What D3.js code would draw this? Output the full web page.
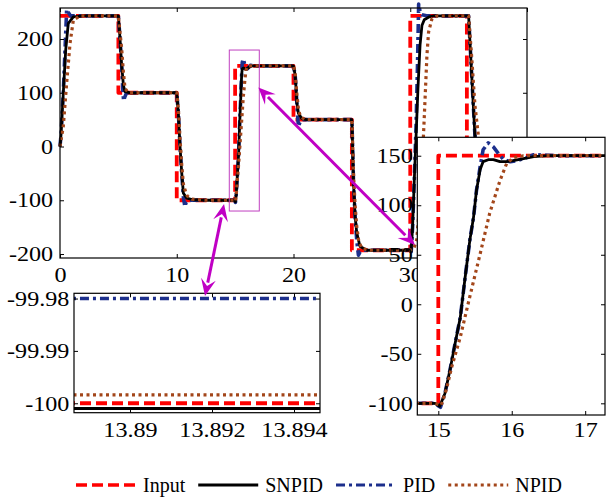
<!DOCTYPE html>
<html>
<head>
<meta charset="utf-8">
<script src="https://cdn.jsdelivr.net/npm/d3@7/dist/d3.min.js"></script>
<style>
body { margin: 0; background: #fff; }
svg { display: block; }
text { font-family: "Liberation Serif", "Times New Roman", serif; fill: #000; }
</style>
</head>
<body>
<svg id="chart" width="606" height="497"></svg>
<script>
// values: [time, value]
var inputData = [[0,243],[5,243],[5,100],[10,100],[10,-100],[13.88,-100],[13.9,-100],[15,-100],[15,150],[20,150],[20,50],[25,50],
  [25,-193],[30,-193],[30,243],[34.85,243],[34.85,0],[40,0]];

var snpidData = [[0,0],[0.1,25],[0.28,99],[0.49,180],[0.71,229],[1.14,241],[2,243],
  [5,243],[5.14,201],[5.28,152],[5.43,114],[5.57,102],[6.1,99.5],[7,100],
  [10,100],[10.14,62],[10.28,0],[10.43,-50],[10.57,-87],[10.85,-96],[11.4,-99],[12.5,-100],
  [13.88,-100.001],[13.9,-100.001],
  [14.95,-100],[15.02,-103],[15.09,-90],[15.16,-66],[15.23,-39],[15.3,-13],[15.36,24],[15.43,65],[15.48,88],
  [15.52,115],[15.57,136],[15.61,144],[15.68,146],[15.75,146],[15.84,144],[15.93,144],[16.02,145],[16.16,147],
  [16.3,149],[16.5,150],
  [20,150],[20.14,133],[20.22,108],[20.28,83],[20.42,62],[20.7,52],[21.1,50],
  [25,50],[25.07,-6],[25.14,-68],[25.28,-131],[25.42,-161],[25.7,-186],[26.3,-193],
  [30,-193],[30.08,-195],[30.2,-150],[30.35,-60],[30.5,20],[30.66,108],[30.84,189],[31,225],[31.2,236],[31.6,241],[32,243],
  [35,243],[35.1,201],[35.25,139],[35.4,77],[35.54,21],[35.7,-10],[36.2,0],[40,0]];

var pidData = [[0,0],[0.1,25],[0.28,99],[0.45,190],[0.57,255],[0.7,250],[0.9,243],[2,243],
  [5,243],[5.14,201],[5.28,152],[5.38,105],[5.45,85],[5.55,92],[5.7,100],[7,100],
  [10,100],[10.14,62],[10.28,0],[10.43,-50],[10.57,-95],[10.7,-112],[10.8,-104],[11,-100],
  [13.88,-99.98],[13.9,-99.98],
  [14.95,-100],[15.03,-104],[15.09,-90],[15.16,-66],[15.23,-39],[15.3,-13],[15.36,24],[15.43,65],[15.48,88],
  [15.52,115],[15.57,139],[15.61,156],[15.68,163],[15.75,159],[15.82,152],[15.89,146],[15.98,144],[16.07,145],
  [16.2,148],[16.3,151],[16.48,150.5],[16.6,150],
  [20,150],[20.14,133],[20.22,108],[20.3,75],[20.42,37],[20.55,45],[20.7,50],
  [25,50],[25.07,-6],[25.14,-68],[25.28,-131],[25.42,-175],[25.56,-202],[25.7,-196],[26,-193],
  [30,-193],[30.08,-196],[30.2,-150],[30.35,-60],[30.5,40],[30.62,150],[30.72,265],[30.85,250],[31,245],[31.5,243],
  [35,243],[35.1,201],[35.25,139],[35.4,77],[35.54,21],[35.7,-10],[36.2,0],[40,0]];

var npidData = [[0,0],[0.28,37],[0.57,118],[0.86,192],[1.14,235],[1.7,243],
  [5,243],[5.14,213],[5.28,183],[5.43,139],[5.57,108],[5.85,100],
  [10,100],[10.14,70],[10.28,15],[10.43,-35],[10.57,-70],[10.71,-81],[10.9,-92],[11.3,-98],[12.5,-100],
  [13.88,-99.9984],[13.9,-99.9984],
  [14.95,-100],[15.04,-102],[15.11,-86],[15.18,-64],[15.3,-33],[15.43,8],[15.57,51],[15.7,92],[15.84,125],
  [15.93,142],[16.02,148],[16.16,150],
  [20,150],[20.14,138],[20.28,100],[20.42,70],[20.6,55],[21,50],
  [25,50],[25.07,5],[25.14,-50],[25.28,-110],[25.42,-149],[25.6,-178],[25.9,-190],[26.5,-193],
  [30,-193],[30.3,-190],[30.55,-174],[30.84,-100],[31.14,24],[31.43,170],[31.57,213],[31.86,238],[32.3,243],
  [35,243],[35.25,170],[35.54,77],[35.83,21],[36.1,-10],[36.6,0],[40,0]];

var legendLabels = ["Input", "SNPID", "PID", "NPID"];

var mainXTicks = [0, 10, 20, 30, 40];
var mainYTicks = [-200, -100, 0, 100, 200];
var leftXTicks = [13.89, 13.892, 13.894];
var leftYTicks = [-100, -99.99, -99.98];
var rightXTicks = [15, 16, 17];
var rightYTicks = [-100, -50, 0, 50, 100, 150];

// zoom window marked on the main plot, and the two arrows (main plot units)
var zoomRectT = [14.5, 17.07];
var zoomRectV = [-120, 179.5];
var arrowOne = [[12.42, -278], [14.05, -107]];
var arrowTwo = [[16.99, 110], [30.4, -183]];

var series = [inputData, snpidData, pidData, npidData];
var colors = ["#ff0000", "#000000", "#1c2f8c", "#a3461a"];
var dashes = ["11,5", null, "9,4,3,4", "3,3.5"];
var widths = [3.8, 2.8, 3.6, 3.2];
var drawOrder = [0, 2, 1, 3];
var magenta = "#c000c4";

var svg = d3.select("#chart");

function fmt(d) { return String(+d.toFixed(4)); }

// points inside [lo, hi] plus one neighbour on each side, so the zoomed paths stay short
function windowed(data, lo, hi) {
  return data.filter(function(d, i){
    var inside = function(p){ return p && p[0] >= lo && p[0] <= hi; };
    return inside(d) || inside(data[i - 1]) || inside(data[i + 1]);
  });
}

function panel(id, box, xDom, yDom, xt, yt, pad, keep) {
  var x = d3.scaleLinear().domain(xDom).range([box.left, box.right]);
  var y = d3.scaleLinear().domain(yDom).range([box.bottom, box.top]);
  var g = svg.append("g").attr("class", id);

  if (keep) {
    g.append("rect").attr("x", box.left).attr("y", box.top)
      .attr("width", box.right - box.left).attr("height", box.bottom - box.top)
      .attr("fill", "#fff");
    svg.append("clipPath").attr("id", "clip-" + id).append("rect")
      .attr("x", box.left).attr("y", box.top)
      .attr("width", box.right - box.left).attr("height", box.bottom - box.top);
  }

  var line = d3.line().x(function(d){ return x(d[0]); }).y(function(d){ return y(d[1]); });
  var lg = g.append("g");
  if (keep) lg.attr("clip-path", "url(#clip-" + id + ")");
  drawOrder.forEach(function(i){
    var pts = keep ? windowed(series[i], keep[0], keep[1]) : series[i];
    lg.append("path").datum(pts)
      .attr("fill", "none")
      .attr("stroke", colors[i])
      .attr("stroke-width", widths[i])
      .attr("stroke-dasharray", dashes[i])
      .attr("stroke-linejoin", "round")
      .attr("d", line);
  });

  var ax = g.append("g");
  ax.append("g").attr("transform", "translate(0," + box.bottom + ")")
    .call(d3.axisBottom(x).tickValues(xt).tickSize(-4).tickPadding(pad.x).tickFormat(fmt));
  ax.append("g").attr("transform", "translate(0," + box.top + ")")
    .call(d3.axisTop(x).tickValues(xt).tickSize(-4).tickFormat(""));
  ax.append("g").attr("transform", "translate(" + box.left + ",0)")
    .call(d3.axisLeft(y).tickValues(yt).tickSize(-4).tickPadding(pad.y).tickFormat(fmt));
  ax.append("g").attr("transform", "translate(" + box.right + ",0)")
    .call(d3.axisRight(y).tickValues(yt).tickSize(-4).tickFormat(""));
  ax.selectAll("g").attr("font-family", null);
  ax.selectAll(".domain").remove();
  ax.selectAll(".tick line").attr("stroke", "#000").attr("stroke-width", 1);
  ax.selectAll("text")
    .attr("font-size", 21)
    .attr("font-family", "Liberation Serif")
    .attr("transform", "scale(1.15,1)");
  ax.append("rect").attr("x", box.left).attr("y", box.top)
    .attr("width", box.right - box.left).attr("height", box.bottom - box.top)
    .attr("fill", "none").attr("stroke", "#000").attr("stroke-width", 1.2);

  return {x: x, y: y};
}

// main plot
var main = panel("main", {left: 60, right: 527, top: 8, bottom: 258},
  [0, 40], [-207.4, 257.7], mainXTicks, mainYTicks, {x: 9, y: 6}, null);

svg.append("rect")
  .attr("x", main.x(zoomRectT[0])).attr("y", main.y(zoomRectV[1]))
  .attr("width", main.x(zoomRectT[1]) - main.x(zoomRectT[0]))
  .attr("height", main.y(zoomRectV[0]) - main.y(zoomRectV[1]))
  .attr("fill", "none").attr("stroke", "#c040c0").attr("stroke-width", 1);

// bottom-left zoom
panel("zoomA", {left: 74, right: 320, top: 293.3, bottom: 412.7},
  [13.888634, 13.894634], [-100.0018, -99.979], leftXTicks, leftYTicks, {x: 9.5, y: 4}, [13.875, 13.905]);

// right zoom
panel("zoomB", {left: 417.3, right: 605, top: 137.3, bottom: 415},
  [14.714, 17.27], [-111.8, 168.6], rightXTicks, rightYTicks, {x: 7.5, y: 4}, [14.714, 17.27]);

// arrows
function arrow(pts) {
  var p0 = [main.x(pts[0][0]), main.y(pts[0][1])];
  var p1 = [main.x(pts[1][0]), main.y(pts[1][1])];
  var dx = p1[0] - p0[0], dy = p1[1] - p0[1];
  var len = Math.sqrt(dx * dx + dy * dy);
  var ux = dx / len, uy = dy / len;
  var hl = 17, hw = 7.5;
  var g = svg.append("g");
  g.append("line")
    .attr("x1", p0[0] + ux * hl * 0.8).attr("y1", p0[1] + uy * hl * 0.8)
    .attr("x2", p1[0] - ux * hl * 0.8).attr("y2", p1[1] - uy * hl * 0.8)
    .attr("stroke", magenta).attr("stroke-width", 3);
  [[p0, -1], [p1, 1]].forEach(function(h){
    var tip = h[0], s = h[1];
    var bx = tip[0] - s * ux * hl, by = tip[1] - s * uy * hl;
    g.append("path")
      .attr("d", "M" + tip[0] + "," + tip[1] +
        "L" + (bx - uy * hw) + "," + (by + ux * hw) +
        "L" + (tip[0] - s * ux * hl * 0.6) + "," + (tip[1] - s * uy * hl * 0.6) +
        "L" + (bx + uy * hw) + "," + (by - ux * hw) + "Z")
      .attr("fill", magenta);
  });
}
arrow(arrowOne);
arrow(arrowTwo);

// legend
var legend = svg.append("g").attr("transform", "translate(0,485)");
var lx = 76;
[0, 1, 2, 3].forEach(function(i){
  legend.append("line")
    .attr("x1", lx).attr("x2", lx + 60).attr("y1", 0).attr("y2", 0)
    .attr("stroke", colors[i]).attr("stroke-width", i === 0 ? 3.5 : 3)
    .attr("stroke-dasharray", dashes[i]);
  var t = legend.append("text")
    .attr("x", lx + 67).attr("y", 0).attr("dy", "0.33em")
    .attr("font-size", 20)
    .text(legendLabels[i]);
  lx += 67 + t.node().getComputedTextLength() + 13;
});
</script>
</body>
</html>
